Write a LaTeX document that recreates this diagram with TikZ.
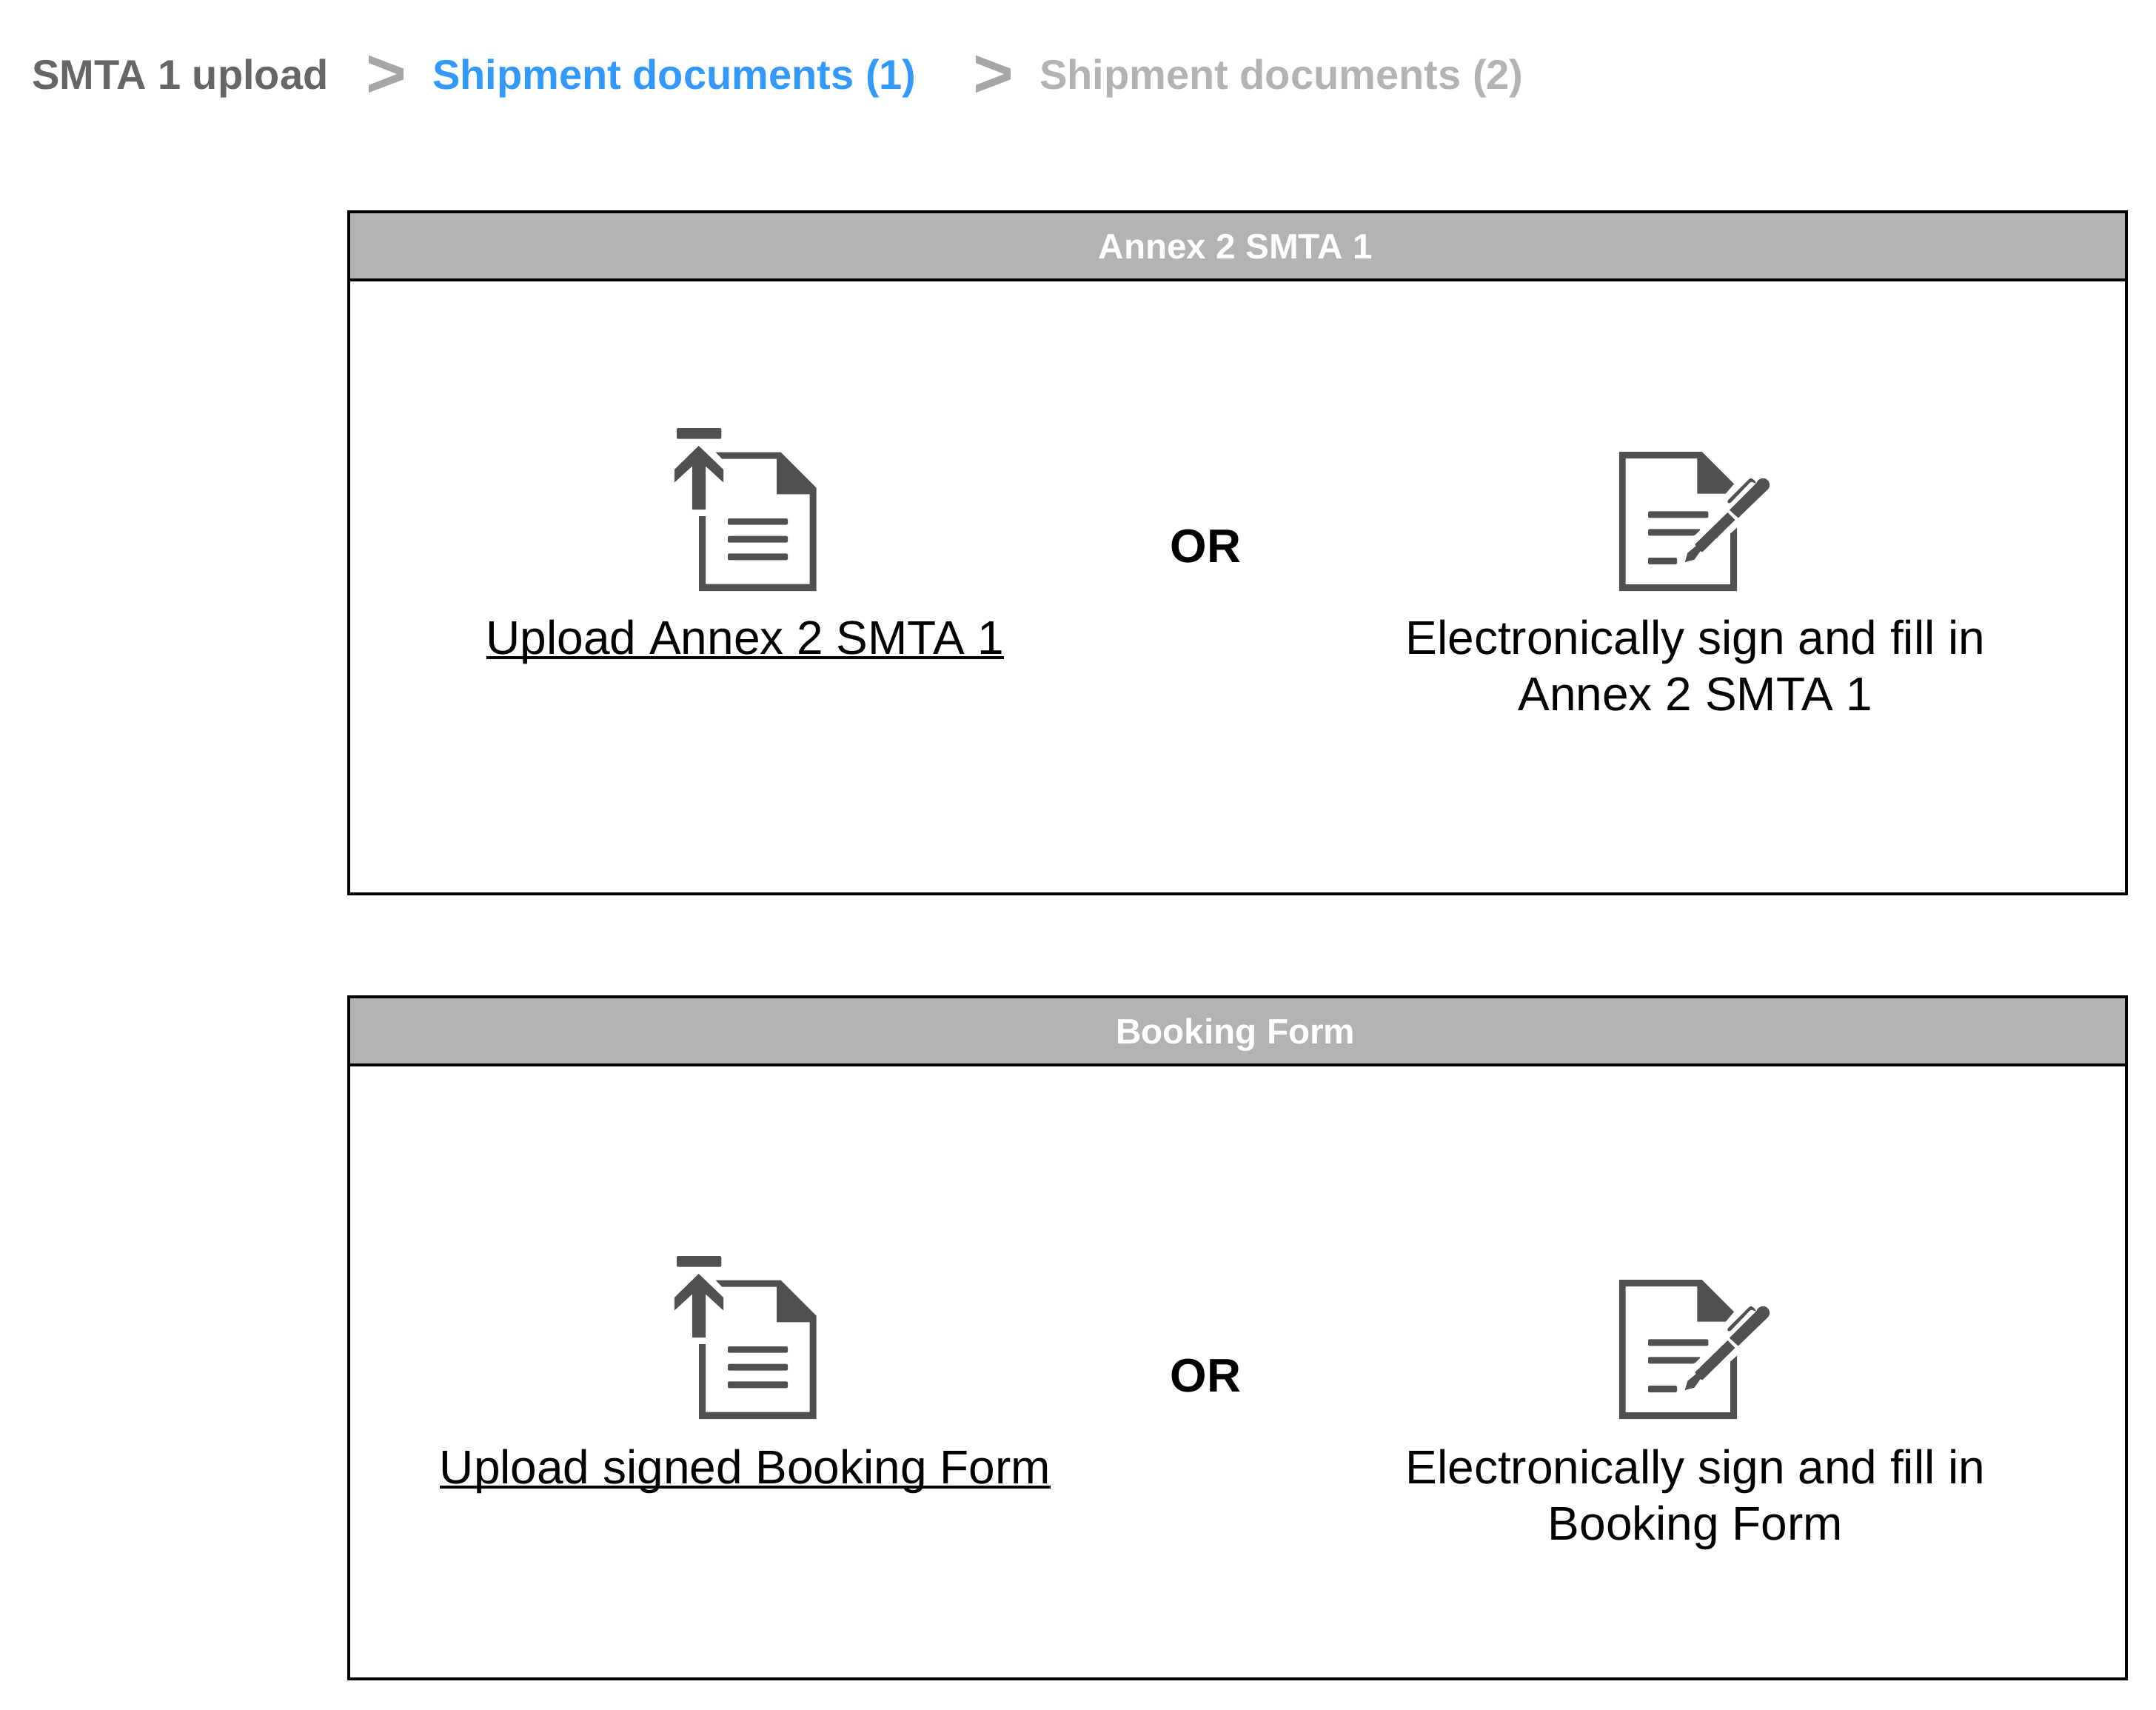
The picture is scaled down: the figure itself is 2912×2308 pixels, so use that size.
\documentclass[tikz,border=0pt]{standalone}
\usepackage{fontspec}
\setmainfont{Liberation Sans}
\definecolor{iconc}{HTML}{505050}
\definecolor{crumbdark}{HTML}{666666}
\definecolor{crumbblue}{HTML}{3399FF}
\definecolor{crumbgray}{HTML}{B3B3B3}
\definecolor{chevc}{HTML}{A6A6A6}
\newcommand{\ultext}[1]{\setbox0\hbox{#1}\rlap{\rule[-2.0pt]{\wd0}{1.15pt}}\box0}
\tikzset{
  panelbox/.style={draw=black,line width=1.14pt,fill=white,rectangle,anchor=north west,inner sep=0,outer sep=0,minimum width=24cm,minimum height=9.2cm},
  headbox/.style={draw=black,line width=1.14pt,fill=crumbgray,rectangle,anchor=north west,inner sep=0,outer sep=0,minimum width=24cm,minimum height=0.92cm,text=white,font=\fontsize{13.55}{16}\selectfont\bfseries,text height=10.2pt,text depth=0pt},
  crumb/.style={anchor=base west,inner sep=0,outer sep=0,font=\fontsize{15.93}{19}\selectfont\bfseries},
  chev/.style={anchor=center,inner sep=0,outer sep=0,text=chevc,font=\fontsize{26.7}{30}\selectfont\bfseries},
  bodytxt/.style={anchor=base,inner sep=0,outer sep=0,align=center,font=\fontsize{18.2}{21.6}\selectfont},
  ortxt/.style={anchor=base,inner sep=0,outer sep=0,font=\fontsize{18.1}{21.6}\selectfont\bfseries},
  pics/uploadicon/.style={code={
    \fill[iconc,rounded corners=0.02cm] (102,54) rectangle (283,98);
    \fill[iconc] (191,126)--(291,222)--(291,274)--(219,208)--(219,384)--(165,384)--(165,208)--(93,274)--(93,222)--cycle;
    \fill[iconc] (260,152)--(524,152)--(668,296)--(668,714)--(192,714)--(192,411)--(219,411)--(219,686)--(641,686)--(641,322)--(507,322)--(507,179)--(286,179)--cycle;
    \fill[iconc,rounded corners=0.02cm] (309,420) rectangle (552,446);
    \fill[iconc,rounded corners=0.02cm] (309,491) rectangle (552,518);
    \fill[iconc,rounded corners=0.02cm] (309,562) rectangle (552,589);
  }},
  pics/signicon/.style={code={
    \fill[iconc] (81,60)--(416,60)--(546,190)--(512,230)--(397,230)--(397,87)--(107,87)--(107,597)--(531,597)--(531,392)--(558,368)--(558,624)--(81,624)--cycle;
    \fill[iconc,rounded corners=0.02cm] (198,301) rectangle (442,328);
    \fill[iconc,rounded corners=0.02cm] (198,373)--(412,373)--(386,400)--(198,400)--cycle;
    \fill[iconc,rounded corners=0.02cm] (198,489) rectangle (315,516);
    \fill[iconc] (528,296)--(637,187) .. controls (645,165) and (670,160) .. (685,178) .. controls (695,192) and (690,205) .. (683,212)--(563,328)--cycle;
    \fill[iconc] (520,306)--(550,336)--(418,466)--(410,462)--(385,497)--(347,507)--(358,470)--(392,442)--(388,435)--cycle;
    \fill[iconc,rounded corners=0.03cm] (516,262)--(614,164)--(637,183)--(630,190)--(617,178)--(527,272)--cycle;
  }}
}
\begin{document}
\begin{tikzpicture}[x=0.01cm,y=-0.01cm]
\useasboundingbox (0,0) rectangle (2912,2308);
% breadcrumb
\node[crumb,text=crumbdark] (c1) at (43,120) {SMTA 1 upload};
\node[chev] (g1) at (522,103) {>};
\node[crumb,text=crumbblue] (c2) at (584,120) {Shipment documents (1)};
\node[chev] (g2) at (1342,103) {>};
\node[crumb,text=crumbgray] (c3) at (1404,120) {Shipment documents (2)};
% panel A
\node[panelbox] (boxA) at (471,286) {};
\node[headbox] (headA) at (471,286) {Annex 2 SMTA 1\hspace*{1.7pt}};
\pic[scale=1/3] at (880,560) {uploadicon};
\node[bodytxt] (upA) at (1006.5,883) {\ultext{Upload Annex 2 SMTA 1}};
\node[ortxt] (orA) at (1628.5,759) {OR};
\pic[scale=1/3] at (2160,590) {signicon};
\node[bodytxt] (sgA) at (2290,959) {Electronically sign and fill in\\Annex 2 SMTA 1};
% panel B
\node[panelbox] (boxB) at (471,1346) {};
\node[headbox] (headB) at (471,1346) {Booking Form\hspace*{1.7pt}};
\pic[scale=1/3] at (880,1678) {uploadicon};
\node[bodytxt] (upB) at (1006.5,2003) {\ultext{Upload signed Booking Form}};
\node[ortxt] (orB) at (1628.5,1879) {OR};
\pic[scale=1/3] at (2160,1708) {signicon};
\node[bodytxt] (sgB) at (2290,2079) {Electronically sign and fill in\\Booking Form};
\end{tikzpicture}
\end{document}
